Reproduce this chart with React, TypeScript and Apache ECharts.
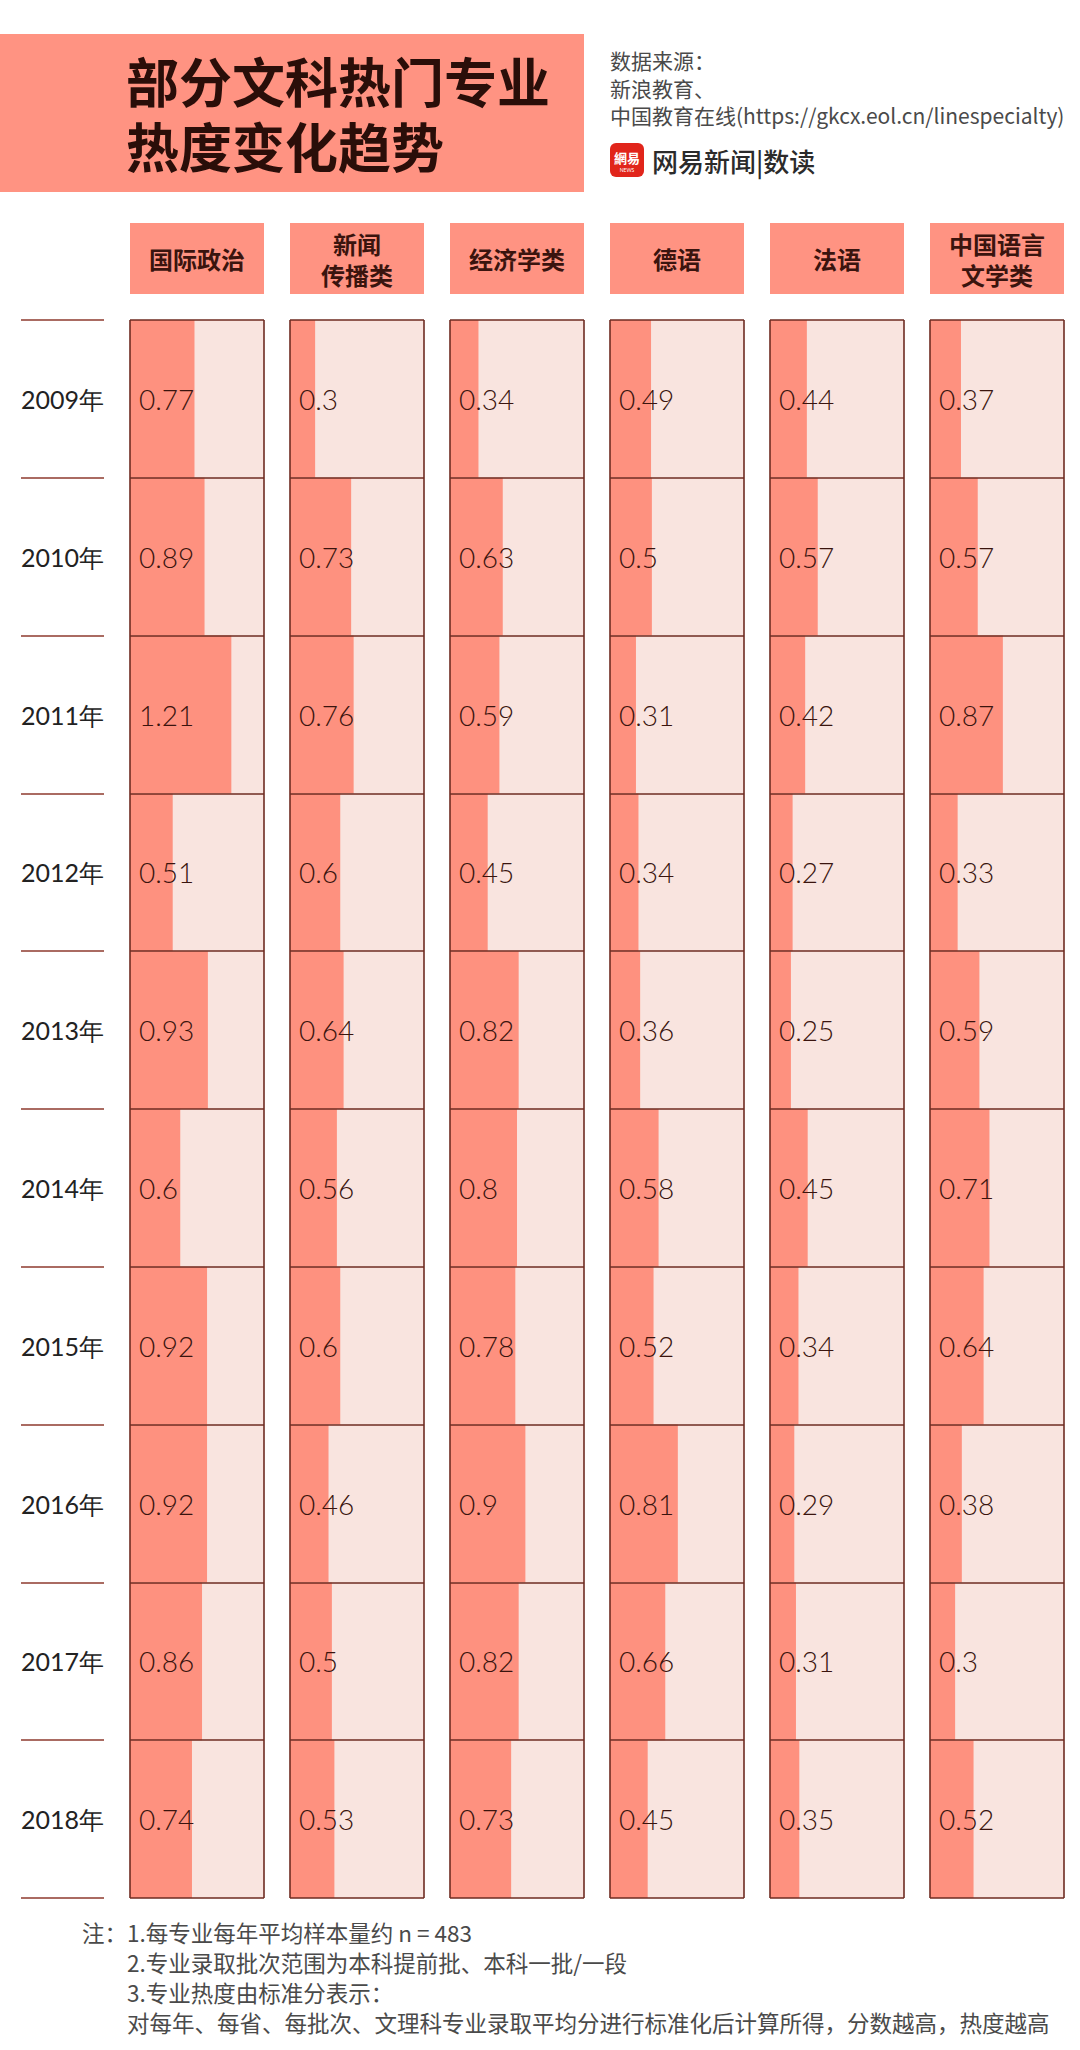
import React, { useEffect, useRef } from "react";
import * as echarts from "echarts";

const TITLE_LINES = ["部分文科热门专业", "热度变化趋势"];
const SOURCE_LINES = ["数据来源：", "新浪教育、", "中国教育在线(https://gkcx.eol.cn/linespecialty)"];
const BRAND = "网易新闻|数读";
const CATEGORIES = ["国际政治", "新闻\n传播类", "经济学类", "德语", "法语", "中国语言\n文学类"];
const YEARS = ["2009年", "2010年", "2011年", "2012年", "2013年", "2014年", "2015年", "2016年", "2017年", "2018年"];

const GUOJI = [0.77, 0.89, 1.21, 0.51, 0.93, 0.6, 0.92, 0.92, 0.86, 0.74];
const XINWEN = [0.3, 0.73, 0.76, 0.6, 0.64, 0.56, 0.6, 0.46, 0.5, 0.53];
const JINGJI = [0.34, 0.63, 0.59, 0.45, 0.82, 0.8, 0.78, 0.9, 0.82, 0.73];
const DEYU = [0.49, 0.5, 0.31, 0.34, 0.36, 0.58, 0.52, 0.81, 0.66, 0.45];
const FAYU = [0.44, 0.57, 0.42, 0.27, 0.25, 0.45, 0.34, 0.29, 0.31, 0.35];
const ZHONGWEN = [0.37, 0.57, 0.87, 0.33, 0.59, 0.71, 0.64, 0.38, 0.3, 0.52];
const SERIES_VALUES = [GUOJI, XINWEN, JINGJI, DEYU, FAYU, ZHONGWEN];

const NOTE_PREFIX = "注：";
const NOTES = [
  "1.每专业每年平均样本量约 n = 483",
  "2.专业录取批次范围为本科提前批、本科一批/一段",
  "3.专业热度由标准分表示：",
  "对每年、每省、每批次、文理科专业录取平均分进行标准化后计算所得，分数越高，热度越高",
];

const AXIS_MAX = 1.6;

const SALMON = "#FE917F";
const PINK = "#F9E4DF";
const BORDER = "#6E2B21";
const DARK = "#3A140E";
const CJK = '"Noto Sans CJK SC", "Noto Sans", sans-serif';
const LATIN = 'Lato, "Noto Sans", sans-serif';

// layout
const COL_X0 = 130;
const COL_STEP = 160;
const COL_W = 134;
const GRID_TOP = 320;
const GRID_H = 1578;
const HEAD_Y = 223;
const HEAD_H = 71;

function txt(x: number, y: number, text: string, opts: any) {
  return {
    type: "text",
    x,
    y,
    silent: true,
    style: {
      text,
      fontFamily: CJK,
      align: opts.align || "left",
      textAlign: opts.align || "left",
      verticalAlign: "middle",
      textVerticalAlign: "middle",
      ...opts.style,
    },
  };
}

export default function App() {
  const ref = useRef<HTMLDivElement>(null);

  useEffect(() => {
    document.body.style.margin = "0";
    if (!ref.current) return;
    const chart = echarts.init(ref.current, undefined, { renderer: "svg" });

    const grids: any[] = [];
    const xAxes: any[] = [];
    const yAxes: any[] = [];
    const series: any[] = [];

    SERIES_VALUES.forEach((vals, i) => {
      grids.push({
        left: COL_X0 + COL_STEP * i,
        top: GRID_TOP,
        width: COL_W,
        height: GRID_H,
        containLabel: false,
        outerBoundsMode: "none",
      });
      xAxes.push({
        type: "value",
        gridIndex: i,
        min: 0,
        max: AXIS_MAX,
        interval: AXIS_MAX,
        z: 10,
        axisLine: { show: false },
        axisTick: { show: false },
        axisLabel: { show: false },
        splitLine: { show: true, lineStyle: { color: BORDER, width: 1.6 } },
      });
      yAxes.push({
        type: "category",
        gridIndex: i,
        data: YEARS,
        inverse: true,
        z: 10,
        axisLine: { show: false },
        axisTick: { show: false },
        axisLabel: { show: false },
        splitLine: { show: true, lineStyle: { color: BORDER, width: 1.6 } },
      });
      series.push({
        type: "bar",
        name: CATEGORIES[i],
        xAxisIndex: i,
        yAxisIndex: i,
        data: vals,
        barWidth: "100%",
        showBackground: true,
        backgroundStyle: { color: PINK },
        itemStyle: { color: SALMON },
        silent: true,
        label: {
          show: true,
          position: "insideLeft",
          distance: 9,
          formatter: (p: any) => String(p.value),
          fontSize: 28,
          fontFamily: LATIN,
          fontWeight: 300,
          color: DARK,
        },
      });
    });

    // year label column
    const li = SERIES_VALUES.length;
    grids.push({ left: 21, top: GRID_TOP, width: 83, height: GRID_H, containLabel: false, outerBoundsMode: "none" });
    xAxes.push({ type: "value", gridIndex: li, min: 0, max: 1, show: false });
    yAxes.push({
      type: "category",
      gridIndex: li,
      data: YEARS,
      inverse: true,
      axisLine: { show: false },
      axisTick: { show: false },
      axisLabel: {
        show: true,
        inside: true,
        margin: 41.5,
        align: "center",
        fontSize: 25,
        fontFamily: LATIN,
        color: "#222222",
      },
      splitLine: { show: true, lineStyle: { color: "#8E3A2E", width: 1.6 } },
    });
    series.push({
      type: "bar",
      xAxisIndex: li,
      yAxisIndex: li,
      data: YEARS.map(() => 0),
      silent: true,
      itemStyle: { opacity: 0 },
    });

    const graphics: any[] = [];
    // title block
    graphics.push({ type: "rect", silent: true, shape: { x: 0, y: 34, width: 584, height: 158 }, style: { fill: "#FF9382" } });
    graphics.push(txt(126, 112, TITLE_LINES.join("\n"), {
      style: { fontSize: 53, fontWeight: "bold", fill: "#2A0E09", lineHeight: 65 },
    }));
    graphics.push(txt(610, 87.5, SOURCE_LINES.join("\n"), { style: { fontSize: 21, fill: "#4A4A4A", lineHeight: 27.5 } }));
    // logo
    graphics.push({ type: "rect", silent: true, shape: { x: 610, y: 143, width: 34, height: 34, r: 6 }, style: { fill: "#E1251B" } });
    graphics.push(txt(627, 157, "網易", { align: "center", style: { fontSize: 13, fontWeight: "bold", fill: "#FFFFFF" } }));
    graphics.push(txt(627, 170, "NEWS", { align: "center", style: { fontSize: 5, fontFamily: LATIN, fill: "#FFFFFF" } }));
    graphics.push(txt(652, 160, BRAND, { style: { fontSize: 26, fontWeight: 500, fill: "#2B2B2B" } }));

    // column headers
    CATEGORIES.forEach((c, i) => {
      const x = COL_X0 + COL_STEP * i;
      graphics.push({ type: "rect", silent: true, shape: { x, y: HEAD_Y, width: COL_W, height: HEAD_H }, style: { fill: "#FF9382" } });
      graphics.push(txt(x + COL_W / 2, HEAD_Y + HEAD_H / 2, c, {
        align: "center",
        style: { fontSize: 24, fontWeight: "bold", fill: DARK, lineHeight: 31 },
      }));
    });

    // notes
    graphics.push(txt(82, 1932, NOTE_PREFIX, { style: { fontSize: 22.5, fill: "#4A4A4A" } }));
    graphics.push(txt(127, 1932 + 45, NOTES.join("\n"), { style: { fontSize: 22.5, fill: "#4A4A4A", lineHeight: 30 } }));

    chart.setOption({
      animation: false,
      backgroundColor: "#FFFFFF",
      textStyle: { fontFamily: CJK },
      grid: grids,
      xAxis: xAxes,
      yAxis: yAxes,
      series,
      graphic: { elements: graphics },
    });

    return () => chart.dispose();
  }, []);

  return <div ref={ref} style={{ width: 1080, height: 2050 }} />;
}
